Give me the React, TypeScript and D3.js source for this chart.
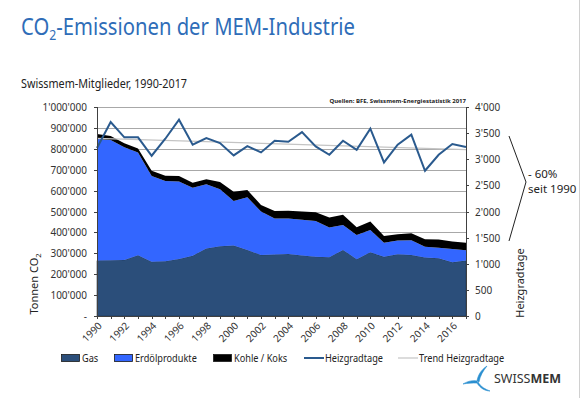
import React, { useEffect, useRef } from 'react';
import * as d3 from 'd3';

const years = [1990, 1991, 1992, 1993, 1994, 1995, 1996, 1997, 1998, 1999, 2000, 2001, 2002, 2003, 2004, 2005, 2006, 2007, 2008, 2009, 2010, 2011, 2012, 2013, 2014, 2015, 2016, 2017];
// Tonnen CO2 per Energieträger
const gas = [265000, 267000, 268000, 291000, 260000, 262000, 273000, 288000, 323000, 334000, 337000, 316000, 292000, 294000, 297000, 290000, 284000, 281000, 316000, 272000, 305000, 283000, 296000, 292000, 280000, 276000, 257000, 265000];
const erdoel = [582000, 575000, 539000, 491000, 410000, 384000, 371000, 326000, 307000, 272000, 213000, 252000, 208000, 173000, 169000, 170000, 171000, 142000, 120000, 116000, 107000, 68000, 65000, 71000, 51000, 51000, 64000, 50000];
const kohle = [24000, 19000, 19000, 20000, 25000, 25000, 26000, 24000, 24000, 35000, 45000, 35000, 31000, 35000, 38000, 40000, 42000, 48000, 48000, 37000, 40000, 32000, 30000, 33000, 36000, 39000, 35000, 36000];
const heizgradtage = [3214, 3712, 3419, 3419, 3067, 3393, 3757, 3278, 3406, 3310, 3073, 3252, 3131, 3355, 3335, 3520, 3246, 3086, 3355, 3182, 3585, 2939, 3278, 3470, 2780, 3086, 3291, 3233];
const trendEnds = [3400, 3185]; // Trend Heizgradtage 1990 / 2017

const leftTicks = [0, 100000, 200000, 300000, 400000, 500000, 600000, 700000, 800000, 900000, 1000000];
const rightTicks = [0, 500, 1000, 1500, 2000, 2500, 3000, 3500, 4000];
const labelYears = [1990, 1992, 1994, 1996, 1998, 2000, 2002, 2004, 2006, 2008, 2010, 2012, 2014, 2016];

const seriesKeys = ['gas', 'erdoel', 'kohle'];
const seriesColors: Record<string, string> = { gas: '#2b4e7a', erdoel: '#3366ff', kohle: '#000000' };

const fmt = (v: number) => d3.format(',')(v).replace(/,/g, "'");

const App: React.FC = () => {
  const svgRef = useRef<SVGSVGElement>(null);

  useEffect(() => {
    document.body.style.margin = '0';
    if (!svgRef.current) return;
    const W = 582, H = 398;
    const left = 97, right = 466, top = 107, bottom = 316;
    const font = 'Noto Sans, sans-serif';

    const svg = d3.select(svgRef.current)
      .attr('width', W)
      .attr('height', H)
      .html('');

    svg.append('rect').attr('width', W).attr('height', H).attr('fill', '#fff');
    svg.append('line').attr('x1', 579.5).attr('x2', 579.5).attr('y1', 0).attr('y2', H)
      .attr('stroke', '#d0d0d0');

    // Title (condensed look via horizontal scale)
    const title = svg.append('text')
      .attr('transform', 'translate(21,35) scale(0.88,1)')
      .style('font-family', font).style('font-size', '23px')
      .style('fill', '#2f6db8');
    title.append('tspan').text('CO');
    title.append('tspan').attr('dy', 5).style('font-size', '14px').text('2');
    title.append('tspan').attr('dy', -5).text('-Emissionen der MEM-Industrie');

    svg.append('text')
      .attr('transform', 'translate(21,88) scale(0.9,1)')
      .style('font-family', font).style('font-size', '12px').style('fill', '#222')
      .text('Swissmem-Mitglieder, 1990-2017');

    svg.append('text')
      .attr('x', right).attr('y', 103)
      .attr('text-anchor', 'end')
      .style('font-family', font).style('font-size', '6px').style('font-weight', 'bold').style('fill', '#222')
      .text('Quellen: BFE, Swissmem-Energiestatistik 2017');

    const x = d3.scalePoint<number>().domain(years).range([left, right]);
    const yL = d3.scaleLinear().domain([0, 1000000]).range([bottom, top]);
    const yR = d3.scaleLinear().domain([0, 4000]).range([bottom, top]);

    // Gridlines
    svg.append('g')
      .selectAll('line')
      .data(leftTicks.filter(t => t > 0))
      .join('line')
      .attr('x1', left).attr('x2', right)
      .attr('y1', d => Math.round(yL(d)) + 0.5).attr('y2', d => Math.round(yL(d)) + 0.5)
      .attr('stroke', '#a8a8a8');

    // Stacked areas
    const table = years.map((yr, i) => ({ year: yr, gas: gas[i], erdoel: erdoel[i], kohle: kohle[i] }));
    const stack = d3.stack<any>().keys(seriesKeys)(table);
    const area = d3.area<any>()
      .x(d => x(d.data.year)!)
      .y0(d => yL(d[0]))
      .y1(d => yL(d[1]));

    svg.append('g')
      .selectAll('path')
      .data(stack)
      .join('path')
      .attr('d', d => area(d as any)!)
      .attr('fill', d => seriesColors[d.key])
      .attr('stroke', d => d.key === 'gas' ? '#1d3656' : 'none')
      .attr('stroke-width', 0.6);

    // Trend line
    svg.append('line')
      .attr('x1', x(years[0])!).attr('x2', x(years[years.length - 1])!)
      .attr('y1', yR(trendEnds[0])).attr('y2', yR(trendEnds[1]))
      .attr('stroke', '#c4c4c4').attr('stroke-width', 1.2);

    // Heizgradtage line
    const line = d3.line<number>()
      .x((_, i) => x(years[i])!)
      .y(d => yR(d));
    svg.append('path')
      .attr('d', line(heizgradtage)!)
      .attr('fill', 'none')
      .attr('stroke', '#2a5a8e')
      .attr('stroke-width', 2);

    // Axes frame
    svg.append('line').attr('x1', left + 0.5).attr('x2', left + 0.5).attr('y1', top).attr('y2', bottom)
      .attr('stroke', '#404040');
    svg.append('line').attr('x1', right + 0.5).attr('x2', right + 0.5).attr('y1', top).attr('y2', bottom)
      .attr('stroke', '#404040');
    svg.append('line').attr('x1', left).attr('x2', right + 1).attr('y1', bottom + 0.5).attr('y2', bottom + 0.5)
      .attr('stroke', '#404040');

    // Left axis
    const gl = svg.append('g');
    leftTicks.forEach(t => {
      const yy = Math.round(yL(t)) + 0.5;
      gl.append('line').attr('x1', left - 3).attr('x2', left).attr('y1', yy).attr('y2', yy).attr('stroke', '#404040');
      gl.append('text')
        .attr('x', left - 10).attr('y', yy).attr('dy', '0.35em')
        .attr('text-anchor', 'end')
        .style('font-family', font).style('font-size', '10px').style('fill', '#333')
        .text(t === 0 ? '-' : fmt(t));
    });

    // Right axis
    const gr = svg.append('g');
    rightTicks.forEach(t => {
      const yy = Math.round(yR(t)) + 0.5;
      gr.append('line').attr('x1', right).attr('x2', right + 3).attr('y1', yy).attr('y2', yy).attr('stroke', '#404040');
      gr.append('text')
        .attr('x', right + 9).attr('y', yy).attr('dy', '0.35em')
        .style('font-family', font).style('font-size', '10px').style('fill', '#333')
        .text(fmt(t));
    });

    // X axis ticks + labels
    const gx = svg.append('g');
    years.forEach(yr => {
      const xx = Math.round(x(yr)!) + 0.5;
      gx.append('line').attr('x1', xx).attr('x2', xx).attr('y1', bottom).attr('y2', bottom + 3).attr('stroke', '#404040');
    });
    labelYears.forEach(yr => {
      gx.append('text')
        .attr('transform', `translate(${x(yr)! + 3},${bottom + 8}) rotate(-45)`)
        .attr('text-anchor', 'end')
        .attr('dy', '0.35em')
        .style('font-family', font).style('font-size', '10px').style('fill', '#333')
        .text(yr);
    });

    // Axis titles
    const lt = svg.append('text')
      .attr('transform', `translate(38,284) rotate(-90)`)
      .attr('text-anchor', 'middle')
      .style('font-family', font).style('font-size', '11px').style('fill', '#222');
    lt.append('tspan').text('Tonnen CO');
    lt.append('tspan').attr('dy', 3).style('font-size', '7.5px').text('2');

    svg.append('text')
      .attr('transform', `translate(524,283) rotate(-90)`)
      .attr('text-anchor', 'middle')
      .style('font-family', font).style('font-size', '11px').style('fill', '#222')
      .text('Heizgradtage');

    // Brace
    svg.append('path')
      .attr('d', 'M509,136 L526,182 L509,241')
      .attr('fill', 'none').attr('stroke', '#222').attr('stroke-width', 1);
    svg.append('text')
      .attr('x', 528).attr('y', 178)
      .style('font-family', font).style('font-size', '11.5px').style('fill', '#222')
      .text('- 60%');
    svg.append('text')
      .attr('x', 528).attr('y', 193)
      .style('font-family', font).style('font-size', '11.5px').style('fill', '#222')
      .text('seit 1990');

    // Legend
    const legend = [
      { label: 'Gas', x: 61, type: 'rect', color: seriesColors.gas },
      { label: 'Erdölprodukte', x: 114, type: 'rect', color: seriesColors.erdoel },
      { label: 'Kohle / Koks', x: 213, type: 'rect', color: seriesColors.kohle },
      { label: 'Heizgradtage', x: 304, type: 'line', color: '#2a5a8e' },
      { label: 'Trend Heizgradtage', x: 398, type: 'line', color: '#c4c4c4' },
    ];
    const lg = svg.append('g').attr('transform', 'translate(0,358)');
    legend.forEach(item => {
      if (item.type === 'rect') {
        lg.append('rect').attr('x', item.x + 0.5).attr('y', -3.5).attr('width', 18).attr('height', 7)
          .attr('fill', item.color).attr('stroke', '#1a1a1a').attr('stroke-width', 0.8);
      } else {
        lg.append('line').attr('x1', item.x).attr('x2', item.x + 20).attr('y1', 0).attr('y2', 0)
          .attr('stroke', item.color).attr('stroke-width', item.label === 'Heizgradtage' ? 2 : 1.2);
      }
      lg.append('text')
        .attr('transform', `translate(${item.x + 21},0) scale(0.92,1)`)
        .attr('dy', '0.35em')
        .style('font-family', font).style('font-size', '10px').style('fill', '#222')
        .text(item.label);
    });

    // Logo
    const logo = svg.append('g');
    const arms = [
      'M477,381 C478,375 481,370 487,366 C483,371 480,376 479,382 Z',
      'M477,381 C473,380 468,381 463,384 C468,383 472,383 477,383 Z',
      'M478,382 C481,387 485,389 490,391 C485,391 480,388 477,383 Z',
    ];
    arms.forEach(d => {
      logo.append('path').attr('d', d).attr('fill', '#2a8fd0').attr('stroke', '#2a8fd0').attr('stroke-width', 0.6);
    });
    const lt2 = svg.append('text')
      .attr('x', 494).attr('y', 383)
      .style('font-family', font).style('font-size', '12.5px').style('fill', '#333');
    lt2.append('tspan').text('SWISS');
    lt2.append('tspan').style('font-weight', 'bold').text('MEM');
  }, []);

  return <svg ref={svgRef} style={{ display: 'block' }} />;
};

export default App;
